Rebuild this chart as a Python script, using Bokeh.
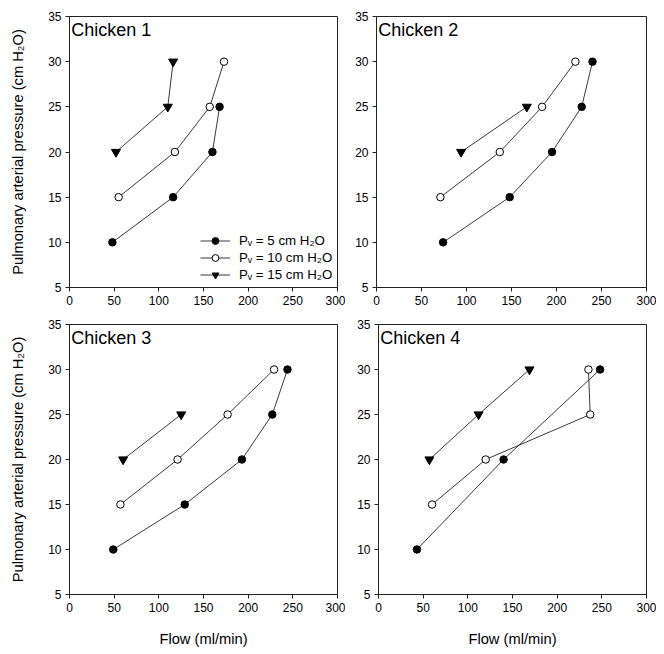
from bokeh.plotting import figure
from bokeh.layouts import column, row
from bokeh.models import Range1d, FixedTicker, Label, Legend
from bokeh.embed import file_html
from bokeh.resources import INLINE

chickens = ["Chicken 1", "Chicken 2", "Chicken 3", "Chicken 4"]
series_labels = ["P\u1d65 = 5 cm H\u2082O", "P\u1d65 = 10 cm H\u2082O", "P\u1d65 = 15 cm H\u2082O"]

# Chicken 1
c1_p5_flow = [48, 116, 160, 168]
c1_p5_pres = [10, 15, 20, 25]
c1_p10_flow = [55, 118, 157, 173]
c1_p10_pres = [15, 20, 25, 30]
c1_p15_flow = [52, 110, 116]
c1_p15_pres = [20, 25, 30]

# Chicken 2
c2_p5_flow = [74, 148, 195, 228, 240]
c2_p5_pres = [10, 15, 20, 25, 30]
c2_p10_flow = [71, 137, 184, 221]
c2_p10_pres = [15, 20, 25, 30]
c2_p15_flow = [94, 167]
c2_p15_pres = [20, 25]

# Chicken 3
c3_p5_flow = [49, 129, 193, 227, 244]
c3_p5_pres = [10, 15, 20, 25, 30]
c3_p10_flow = [57, 121, 177, 229]
c3_p10_pres = [15, 20, 25, 30]
c3_p15_flow = [60, 125]
c3_p15_pres = [20, 25]

# Chicken 4
c4_p5_flow = [43, 140, 248]
c4_p5_pres = [10, 20, 30]
c4_p10_flow = [60, 120, 237, 235]
c4_p10_pres = [15, 20, 25, 30]
c4_p15_flow = [57, 112, 169]
c4_p15_pres = [20, 25, 30]

x_ticks = [0, 50, 100, 150, 200, 250, 300]
y_ticks = [5, 10, 15, 20, 25, 30, 35]

panel_data = [
    [(c1_p5_flow, c1_p5_pres), (c1_p10_flow, c1_p10_pres), (c1_p15_flow, c1_p15_pres)],
    [(c2_p5_flow, c2_p5_pres), (c2_p10_flow, c2_p10_pres), (c2_p15_flow, c2_p15_pres)],
    [(c3_p5_flow, c3_p5_pres), (c3_p10_flow, c3_p10_pres), (c3_p15_flow, c3_p15_pres)],
    [(c4_p5_flow, c4_p5_pres), (c4_p10_flow, c4_p10_pres), (c4_p15_flow, c4_p15_pres)],
]

FONT = "Liberation Sans"
LINE_COLOR = "#3a3a3a"

# (frame_w, frame_h, border_left, border_right, border_top, border_bottom)
geoms = [
    (268, 271, 69, 8, 16, 29),
    (270, 271, 31, 10, 16, 29),
    (268, 270, 69, 8, 8, 52),
    (268, 270, 33, 10, 8, 52),
]

figs = []
for i, name in enumerate(chickens):
    fw, fh, bl, br, bt, bb = geoms[i]
    p = figure(frame_width=fw, frame_height=fh, output_backend="svg", toolbar_location=None,
               x_range=Range1d(0, 300), y_range=Range1d(5, 35),
               min_border_left=bl, min_border_right=br, min_border_top=bt, min_border_bottom=bb)
    p.grid.visible = False
    p.outline_line_color = "#222222"
    p.outline_line_width = 1
    p.background_fill_color = "white"
    p.border_fill_color = "white"
    for ax in (p.xaxis[0], p.yaxis[0]):
        ax.major_label_text_font = FONT
        ax.major_label_text_font_size = "12px"
        ax.major_label_text_color = "black"
        ax.axis_line_color = "#222222"
        ax.major_tick_line_color = "#222222"
        ax.major_tick_out = 4
        ax.major_tick_in = 0
        ax.minor_tick_line_color = None
        ax.axis_label_text_font = FONT
        ax.axis_label_text_font_size = "14.7px"
        ax.axis_label_text_font_style = "normal"
        ax.axis_label_text_color = "black"
    p.xaxis[0].ticker = FixedTicker(ticks=x_ticks)
    p.yaxis[0].ticker = FixedTicker(ticks=y_ticks)
    p.xaxis[0].major_label_standoff = 4
    p.yaxis[0].major_label_standoff = 4
    if i in (0, 2):
        p.yaxis[0].axis_label = "Pulmonary arterial pressure (cm H\u2082O)"
        p.yaxis[0].axis_label_standoff = 19
    if i in (2, 3):
        p.xaxis[0].axis_label = "Flow (ml/min)"
        p.xaxis[0].axis_label_standoff = 16

    (f5, y5), (f10, y10), (f15, y15) = panel_data[i]
    r1 = p.line(f5, y5, line_color=LINE_COLOR, line_width=1)
    r2 = p.scatter(f5, y5, marker="circle", size=7.5, fill_color="black", line_color="black")
    r3 = p.line(f10, y10, line_color=LINE_COLOR, line_width=1)
    r4 = p.scatter(f10, y10, marker="circle", size=7.5, fill_color="white", line_color="black", line_width=1)
    r5 = p.line(f15, y15, line_color=LINE_COLOR, line_width=1)
    r6 = p.scatter(f15, y15, marker="inverted_triangle", size=9, fill_color="black", line_color="black")

    p.add_layout(Label(x=2, y=34.6, text=name, text_font=FONT, text_font_size="18px",
                       text_color="black", text_baseline="top", text_align="left"))

    if i == 0:
        legend = Legend(items=[(series_labels[0], [r1, r2]),
                               (series_labels[1], [r3, r4]),
                               (series_labels[2], [r5, r6])],
                        location=(131, 4))
        legend.glyph_width = 30
        legend.glyph_height = 17
        legend.label_height = 17
        legend.spacing = 0
        legend.padding = 0
        legend.margin = 0
        legend.label_standoff = 9
        legend.label_text_font = FONT
        legend.label_text_font_size = "13.3px"
        legend.label_text_color = "black"
        legend.background_fill_alpha = 0
        legend.border_line_alpha = 0
        p.add_layout(legend, "center")
    figs.append(p)

layout = column(row(figs[0], figs[1]), row(figs[2], figs[3]))

open("out.html", "w").write(file_html(layout, INLINE))
